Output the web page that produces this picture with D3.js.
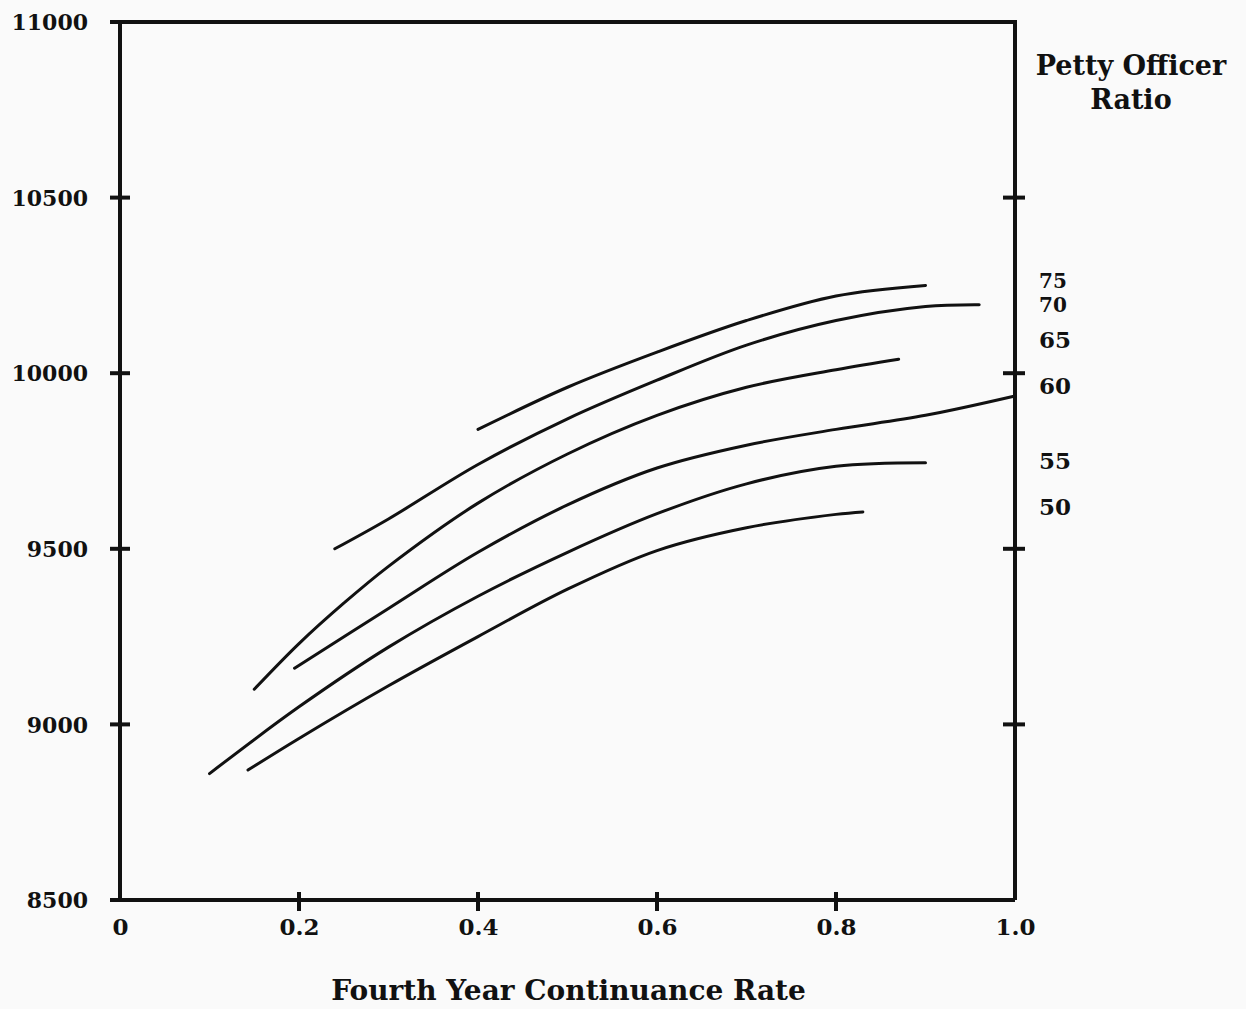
<!DOCTYPE html>
<html>
<head>
<meta charset="utf-8">
<script src="https://cdn.jsdelivr.net/npm/d3@7"></script>
<style>
  body { margin: 0; background: #fafafa; }
  svg { display: block; }
  text { font-family: "DejaVu Serif", serif; font-weight: bold; fill: #111; }
</style>
</head>
<body>
<svg id="chart"></svg>
<script>
// series: [continuance rate, value]
const ratio75 = [[0.40, 9840], [0.50, 9960], [0.60, 10060], [0.70, 10150], [0.80, 10220], [0.90, 10250]];
const ratio70 = [[0.24, 9500], [0.30, 9585], [0.40, 9740], [0.50, 9870], [0.60, 9980], [0.70, 10080], [0.80, 10150], [0.90, 10190], [0.96, 10195]];
const ratio65 = [[0.15, 9100], [0.20, 9230], [0.25, 9345], [0.30, 9450], [0.40, 9630], [0.50, 9770], [0.60, 9880], [0.70, 9960], [0.80, 10010], [0.87, 10040]];
const ratio60 = [[0.195, 9160], [0.30, 9330], [0.40, 9490], [0.50, 9625], [0.60, 9730], [0.70, 9795], [0.80, 9840], [0.90, 9880], [1.0, 9935]];
const ratio55 = [[0.10, 8860], [0.20, 9050], [0.30, 9220], [0.40, 9365], [0.50, 9490], [0.60, 9600], [0.70, 9685], [0.80, 9735], [0.90, 9745]];
const ratio50 = [[0.143, 8870], [0.20, 8960], [0.30, 9110], [0.40, 9250], [0.50, 9385], [0.60, 9495], [0.70, 9560], [0.80, 9598], [0.83, 9605]];

const ratioNames = ['75', '70', '65', '60', '55', '50'];
const labelValues = [10262, 10195, 10095, 9965, 9750, 9620];  // where each name sits on the y scale

const yTicks = [8500, 9000, 9500, 10000, 10500, 11000];
const xTicks = [0, 0.2, 0.4, 0.6, 0.8, 1.0];
const xTickLabels = ['0', '0.2', '0.4', '0.6', '0.8', '1.0'];

const series = [ratio75, ratio70, ratio65, ratio60, ratio55, ratio50];

const config = { width: 1246, height: 1009, margin: { top: 22, right: 231, bottom: 109, left: 120 } };
const width = config.width - config.margin.left - config.margin.right;
const height = config.height - config.margin.top - config.margin.bottom;

const svg = d3.select('#chart')
  .attr('width', config.width)
  .attr('height', config.height);

const chart = svg.append('g')
  .attr('transform', `translate(${config.margin.left}, ${config.margin.top})`);

const xScale = d3.scaleLinear().domain([0, 1]).range([0, width]);
const yScale = d3.scaleLinear().domain([8500, 11000]).range([height, 0]);

const ink = '#111';

// frame: left, bottom, top, right
chart.append('path')
  .attr('d', `M${-10},0 H${width} V${height} M0,0 V${height} M${-10},${height} H${width}`)
  .attr('fill', 'none')
  .attr('stroke', ink)
  .attr('stroke-width', 4);

// y labels on the left
const yAxis = d3.axisLeft(yScale)
  .tickValues(yTicks)
  .tickSize(0)
  .tickPadding(32)
  .tickFormat(d => d);

chart.append('g')
  .attr('class', 'axis y-axis')
  .call(yAxis)
  .call(g => g.select('.domain').remove())
  .selectAll('text')
  .style('font-size', '22px')
  .attr('dy', '0.35em');

// cross ticks on left and right axes
const innerY = yTicks.filter(d => d > 8500 && d < 11000);
chart.selectAll('.ytick-left')
  .data(innerY)
  .join('line')
  .attr('class', 'ytick-left')
  .attr('x1', -10).attr('x2', 10)
  .attr('y1', d => yScale(d)).attr('y2', d => yScale(d))
  .attr('stroke', ink).attr('stroke-width', 4);

chart.selectAll('.ytick-right')
  .data(innerY)
  .join('line')
  .attr('class', 'ytick-right')
  .attr('x1', width - 12).attr('x2', width + 10)
  .attr('y1', d => yScale(d)).attr('y2', d => yScale(d))
  .attr('stroke', ink).attr('stroke-width', 4);

// x axis labels
const xAxis = d3.axisBottom(xScale)
  .tickValues(xTicks)
  .tickSize(0)
  .tickPadding(19)
  .tickFormat((d, i) => xTickLabels[i]);

chart.append('g')
  .attr('class', 'axis x-axis')
  .attr('transform', `translate(0, ${height})`)
  .call(xAxis)
  .call(g => g.select('.domain').remove())
  .selectAll('text')
  .style('font-size', '23px');

chart.selectAll('.xtick')
  .data(xTicks.filter(d => d > 0 && d < 1))
  .join('line')
  .attr('class', 'xtick')
  .attr('x1', d => xScale(d)).attr('x2', d => xScale(d))
  .attr('y1', height - 8).attr('y2', height + 11)
  .attr('stroke', ink).attr('stroke-width', 4);

// curves
const line = d3.line()
  .x(d => xScale(d[0]))
  .y(d => yScale(d[1]))
  .curve(d3.curveCatmullRom.alpha(0.5));

chart.selectAll('.chart-line')
  .data(series)
  .join('path')
  .attr('class', 'chart-line')
  .attr('d', line)
  .attr('fill', 'none')
  .attr('stroke', ink)
  .attr('stroke-width', 3)
  .attr('stroke-linecap', 'round');

// ratio names at the right (the top two sit tight, so a touch smaller)
chart.selectAll('.ratio-label')
  .data(ratioNames)
  .join('text')
  .attr('class', 'ratio-label')
  .attr('x', width + 24)
  .attr('y', (d, i) => yScale(labelValues[i]))
  .attr('dy', '0.35em')
  .style('font-size', (d, i) => i < 2 ? '20px' : '23px')
  .text(d => d);

// legend title
const legendTitle = chart.append('text')
  .attr('x', width + 116)
  .attr('y', 53)
  .attr('text-anchor', 'middle')
  .style('font-size', '27px');
legendTitle.append('tspan').attr('x', width + 116).text('Petty Officer');
legendTitle.append('tspan').attr('x', width + 116).attr('dy', 34).text('Ratio');

// x axis title
svg.append('text')
  .attr('x', config.margin.left + width / 2 + 1)
  .attr('y', 1000)
  .attr('text-anchor', 'middle')
  .style('font-size', '28px')
  .text('Fourth Year Continuance Rate');
</script>
</body>
</html>
